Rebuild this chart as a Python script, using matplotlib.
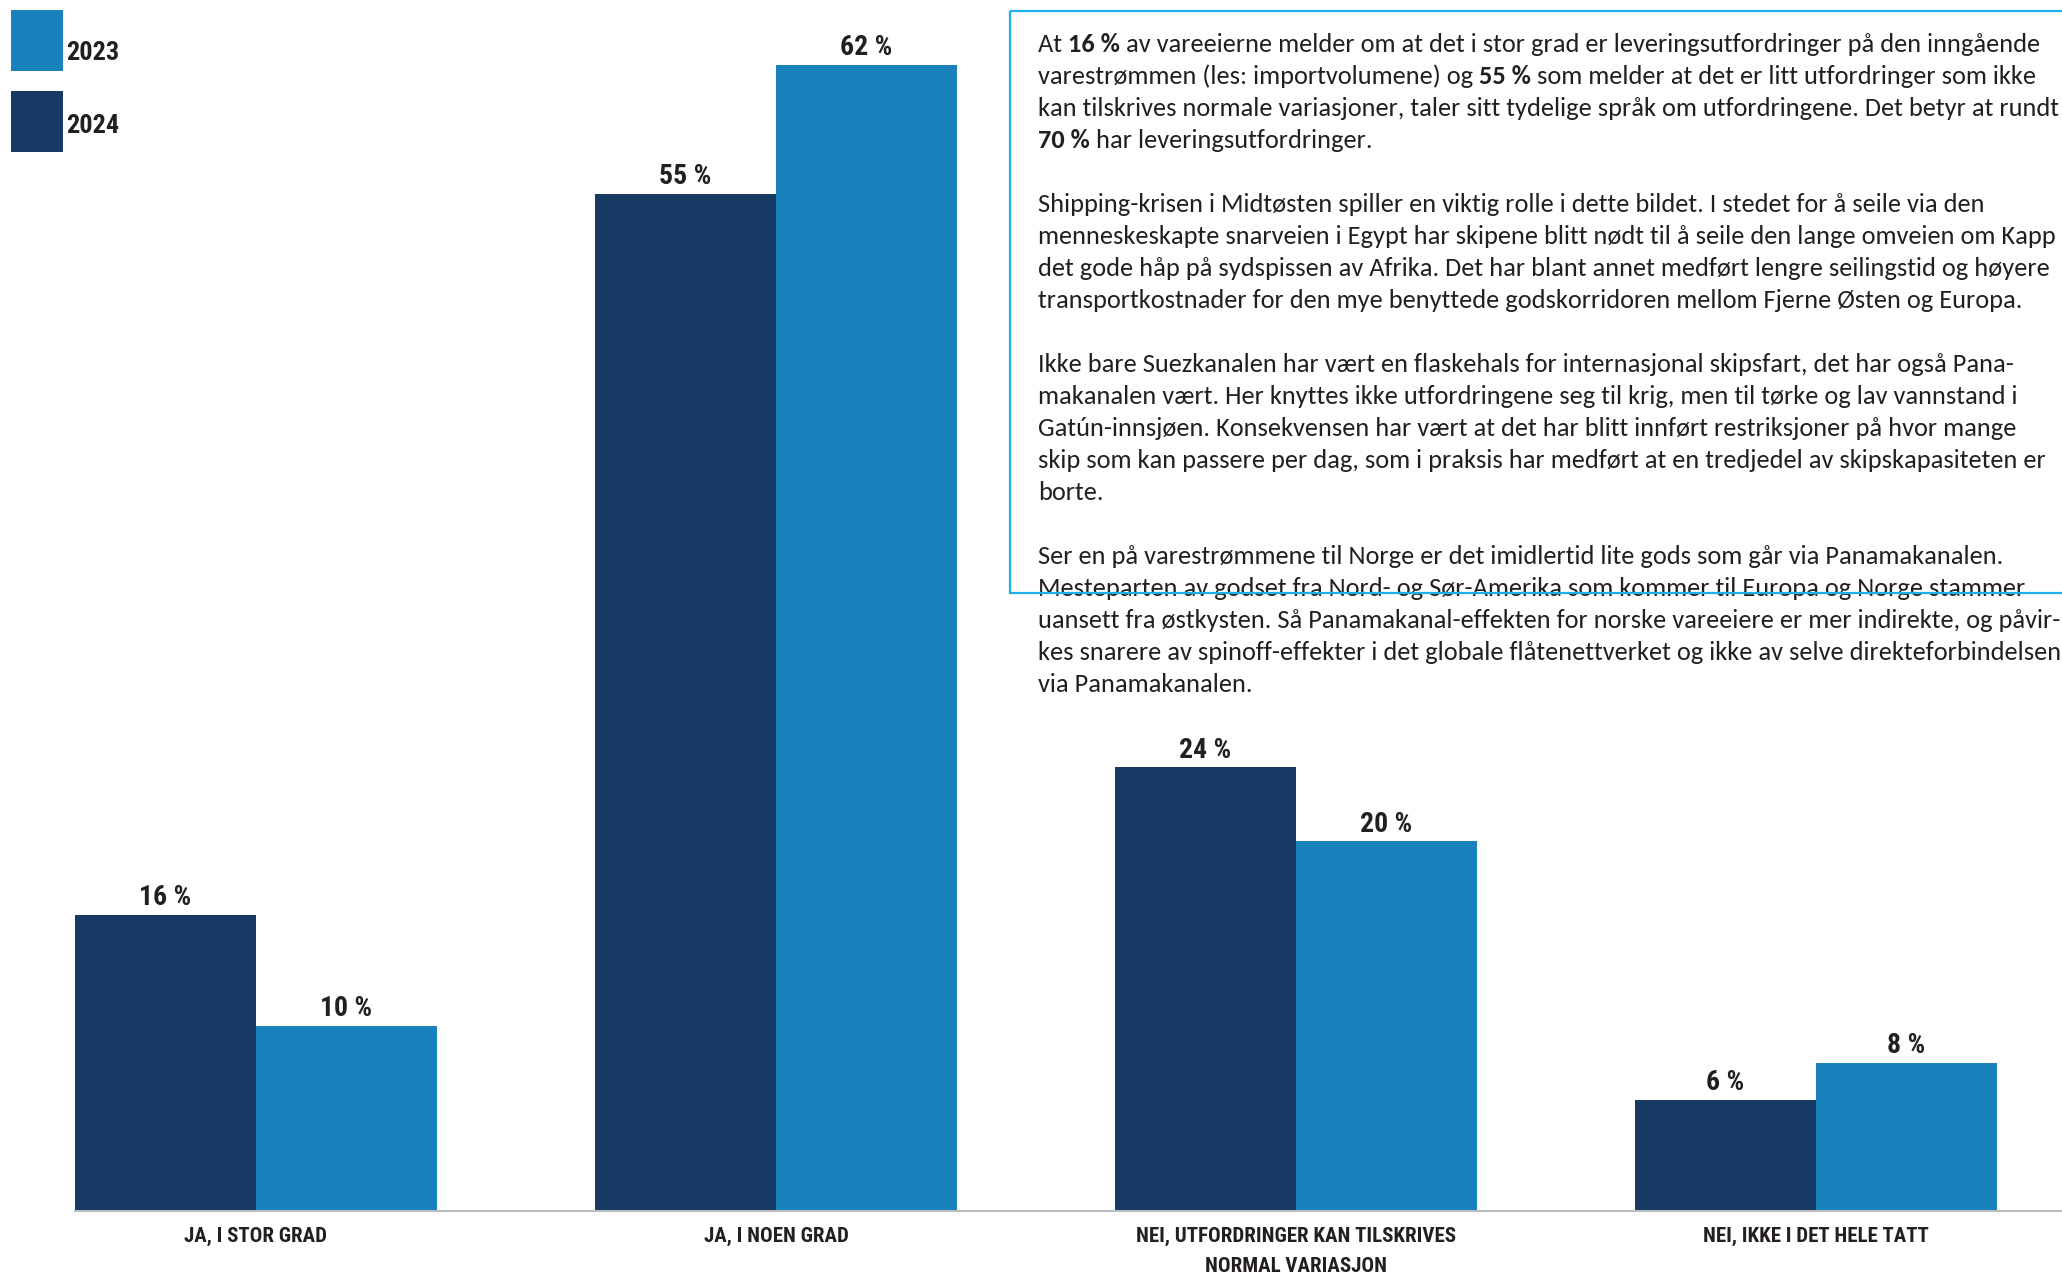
import matplotlib
matplotlib.use("Agg")
import matplotlib.pyplot as plt
from matplotlib import font_manager
from matplotlib.patches import Rectangle
from matplotlib.transforms import Affine2D
import numpy as np

# Data
categories = ["JA, I STOR GRAD", "JA, I NOEN GRAD",
              "NEI, UTFORDRINGER KAN TILSKRIVES\nNORMAL VARIASJON",
              "NEI, IKKE I DET HELE TATT"]
values_2024 = [16, 55, 24, 6]
values_2023 = [10, 62, 20, 8]
years = ["2023", "2024"]

# Body text, **...** marks bold
body_lines = [
    "At **16 %** av vareeierne melder om at det i stor grad er leveringsutfordringer på den inngående",
    "varestrømmen (les: importvolumene) og **55 %** som melder at det er litt utfordringer som ikke",
    "kan tilskrives normale variasjoner, taler sitt tydelige språk om utfordringene. Det betyr at rundt",
    "**70 %** har leveringsutfordringer.",
    "",
    "Shipping-krisen i Midtøsten spiller en viktig rolle i dette bildet. I stedet for å seile via den",
    "menneskeskapte snarveien i Egypt har skipene blitt nødt til å seile den lange omveien om Kapp",
    "det gode håp på sydspissen av Afrika. Det har blant annet medført lengre seilingstid og høyere",
    "transportkostnader for den mye benyttede godskorridoren mellom Fjerne Østen og Europa.",
    "",
    "Ikke bare Suezkanalen har vært en flaskehals for internasjonal skipsfart, det har også Pana-",
    "makanalen vært. Her knyttes ikke utfordringene seg til krig, men til tørke og lav vannstand i",
    "Gatún-innsjøen. Konsekvensen har vært at det har blitt innført restriksjoner på hvor mange",
    "skip som kan passere per dag, som i praksis har medført at en tredjedel av skipskapasiteten er",
    "borte.",
    "",
    "Ser en på varestrømmene til Norge er det imidlertid lite gods som går via Panamakanalen.",
    "Mesteparten av godset fra Nord- og Sør-Amerika som kommer til Europa og Norge stammer",
    "uansett fra østkysten. Så Panamakanal-effekten for norske vareeiere er mer indirekte, og påvir-",
    "kes snarere av spinoff-effekter i det globale flåtenettverket og ikke av selve direkteforbindelsen",
    "via Panamakanalen.",
]

DARK = "#163a64"
LIGHT = "#1880bb"
INK = "#231f20"
FRAME = "#1db0e6"

installed = {f.name for f in font_manager.fontManager.ttflist}
def pick(*names):
    return next((n for n in names if n in installed), "DejaVu Sans")

narrow = pick("Liberation Sans Narrow", "Roboto Condensed", "DejaVu Sans")
body_font = pick("Carlito", "Lato", "Open Sans")

W, H = 2062, 1274
fig = plt.figure(figsize=(W / 100, H / 100), dpi=100)
pix = Affine2D().scale(1, -1).translate(0, H)  # pixel coords measured from top-left

ax = fig.add_axes([75 / W, 63 / H, 1987 / W, 1211 / H])
x = np.arange(len(categories))
w = 0.348
ax.bar(x - w / 2, values_2024, w, color=DARK)
ax.bar(x + w / 2, values_2023, w, color=LIGHT)
ax.set_xlim(-w, 3.473)
ax.set_ylim(0, 65.5)
ax.set_xticks([])
ax.set_yticks([])
for side in ["top", "left", "right"]:
    ax.spines[side].set_visible(False)
ax.spines["bottom"].set_color("#bcbcbc")
ax.spines["bottom"].set_linewidth(1.5)

# value labels
for vals, off in [(values_2024, -w / 2), (values_2023, w / 2)]:
    for xi, v in zip(x, vals):
        ax.annotate(f"{v} %", (xi + off, v), xytext=(0, 7), textcoords="offset points",
                    ha="center", va="baseline", fontsize=20, weight="bold",
                    family=narrow, color=INK)

# category labels
for xi, cat in zip(x, categories):
    for j, line in enumerate(cat.split("\n")):
        ax.annotate(line, (xi, 0), xytext=(0, -(31 + 30 * j) * 0.72),
                    textcoords="offset points", ha="center", va="baseline",
                    fontsize=15, weight="bold", family=narrow, color=INK,
                    annotation_clip=False)

# legend
for i, (yr, col) in enumerate(zip(years, [LIGHT, DARK])):
    top = 10 + 81 * i
    fig.add_artist(Rectangle((11, top), 52, 61, transform=pix, color=col, lw=0))
    fig.text(66, 60 + 73 * i, yr, transform=pix, ha="left", va="baseline",
             fontsize=19, weight="bold", family=narrow, color=INK)

# text box
fig.add_artist(Rectangle((1010, 11), 1200, 582, transform=pix, fill=False,
                         edgecolor=FRAME, lw=1.6, zorder=5))

renderer = fig.canvas.get_renderer()
BODY_SIZE = 19

def piece_width(s, weight):
    probe = fig.text(0, 0, "|" + s + "|", fontsize=BODY_SIZE, family=body_font, weight=weight)
    ref = fig.text(0, 0, "||", fontsize=BODY_SIZE, family=body_font, weight=weight)
    wd = probe.get_window_extent(renderer).width - ref.get_window_extent(renderer).width
    probe.remove()
    ref.remove()
    return wd

for i, line in enumerate(body_lines):
    y = 52 + 32 * i
    xp = 1038
    for k, part in enumerate(line.split("**")):
        if not part:
            continue
        weight = "bold" if k % 2 else "normal"
        fig.text(xp, y, part, transform=pix, ha="left", va="baseline",
                 fontsize=BODY_SIZE, family=body_font, weight=weight, color=INK)
        xp += piece_width(part, weight)

fig.savefig("out.png", dpi=100)
